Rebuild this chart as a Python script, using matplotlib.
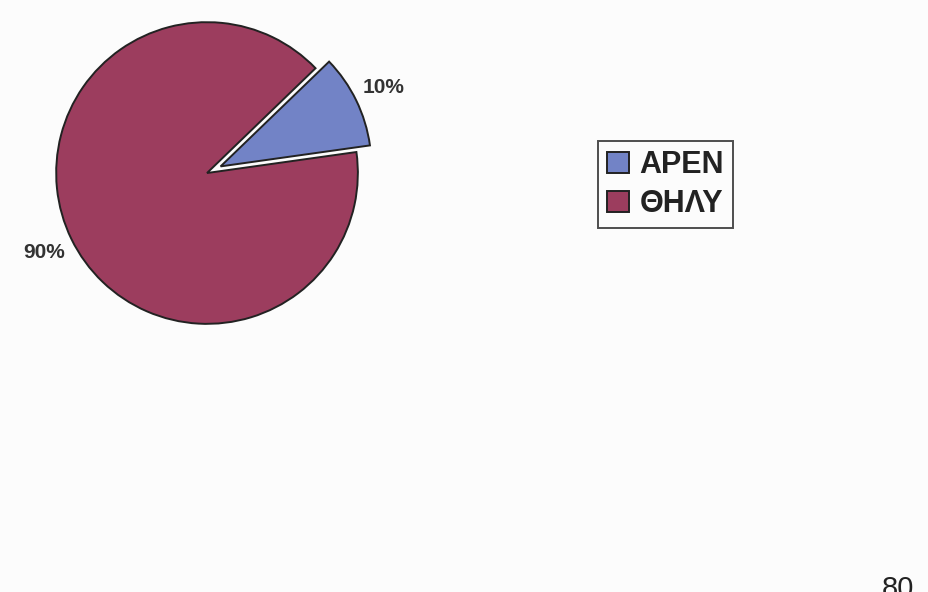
import matplotlib.pyplot as plt

labels = ["ΑΡΕΝ", "ΘΗΛΥ"]
shares = [10, 90]
colors = ["#7283C6", "#9C3D5E"]
explode = [0.1, 0]

plt.rcParams['font.family'] = ['Liberation Sans', 'DejaVu Sans']

fig = plt.figure(figsize=(9.29, 5.92), dpi=100, facecolor="#fcfcfc")
ax = fig.add_axes([0.028, 0.402, 0.3897, 0.6115])
ax.set_facecolor("#fcfcfc")

wedges, texts, autotexts = ax.pie(
    shares, colors=colors, explode=explode, startangle=8,
    autopct="%1.0f%%", pctdistance=1.2,
    wedgeprops=dict(edgecolor="#222222", linewidth=1.4),
    textprops=dict(fontsize=15, fontweight="bold", color="#333333"),
)
ax.set_xlim(-1.2, 1.2)
ax.set_ylim(-1.2, 1.2)
ax.set_aspect("equal")
ax.axis("off")

leg = fig.legend(wedges, labels, loc="upper left", bbox_to_anchor=(0.644, 0.762),
                 frameon=True, fancybox=False, edgecolor="#222222",
                 prop=dict(size=22, weight="bold"), handlelength=0.7,
                 handleheight=0.7, handletextpad=0.35, labelspacing=0.3,
                 borderpad=0.3, borderaxespad=0)
leg.get_frame().set_linewidth(1.4)
leg.get_frame().set_facecolor("#fcfcfc")
for t in leg.get_texts():
    t.set_color("#222222")

# page number at the foot of the page
fig.text(0.967, 0.028, "80", fontsize=21, ha="center", va="top", color="#222222")

fig.savefig("out.png", dpi=100, facecolor=fig.get_facecolor())
